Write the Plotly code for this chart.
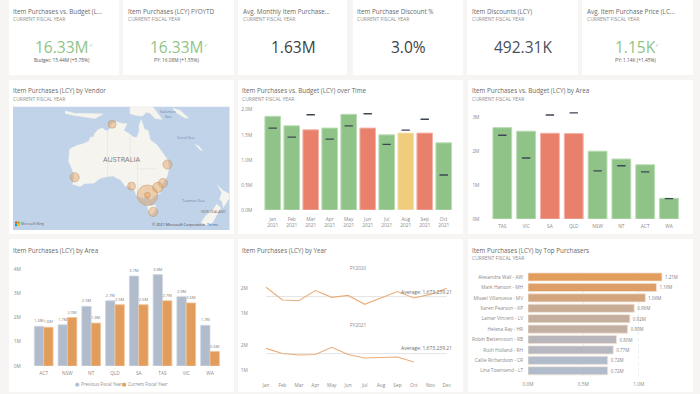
import math
import plotly.graph_objects as go

# ---------- data ----------
months_2021 = ["Jan<br>2021","Feb<br>2021","Mar<br>2021","Apr<br>2021","May<br>2021","Jun<br>2021","Jul<br>2021","Aug<br>2021","Sep<br>2021","Oct<br>2021"]
time_actual = [1.87,1.68,1.60,1.635,1.91,1.635,1.50,1.535,1.535,1.34]
time_budget = [1.635,1.455,1.90,1.415,1.68,1.92,1.31,1.595,1.81,0.70]
time_status = ["g","g","r","g","g","r","g","y","r","g"]

area_sorted = ["TAS","VIC","SA","QLD","NSW","NT","ACT","WA"]
area_actual = [2.695,2.59,2.53,2.52,2.0,1.77,1.60,0.61]
area_budget = [2.47,1.80,3.07,3.13,1.42,1.57,1.39,0.60]
area_status = ["g","g","r","r","g","g","g","g"]

areas = ["ACT","NSW","NT","QLD","SA","TAS","VIC","WA"]
prev_fy = [1.64,1.70,2.46,2.69,3.71,3.77,2.86,1.68]
curr_fy = [1.60,2.00,1.77,2.53,2.53,2.69,2.60,0.60]

months = ["Jan","Feb","Mar","Apr","May","Jun","Jul","Aug","Sep","Oct","Nov","Dec"]
fy2020 = [2.04,1.54,1.51,1.91,1.645,1.72,1.37,1.62,1.87,1.62,1.76,2.0]
fy2021 = [1.88,1.68,1.62,1.64,1.92,1.64,1.50,1.53,1.54,1.34]
average_value = 1.67323921

purchasers = ["Alexandra Wall - AW","Mark Hanson - MH","Misael Villanueva - MV","Karen Pearson - KP","Lamar Vincent - LV","Helena Ray - HR","Robin Bettencourt - RB","Ruth Holland - RH","Callie Richardson - CR","Lina Townsend - LT"]
purchaser_values = [1.21,1.16,1.06,0.96,0.92,0.90,0.80,0.77,0.72,0.72]

vendor_lon = [144.96,144.96,130.84,115.86,153.0,138.6,151.2,149.1,147.3]
vendor_lat = [-37.8,-37.8,-12.46,-31.95,-27.5,-34.9,-33.87,-35.3,-42.9]
vendor_val = [5.0,0.4,0.75,1.0,1.0,0.75,1.0,1.25,1.0]

australia_lon = [113.7,114.1,116.7,119,121.5,122.2,123.6,123.7,125.2,126.9,128.2,129.6,130.6,132.5,135.2,136.8,135.5,137.5,139.3,140.8,141.7,141.6,142.5,143.8,145.3,146.1,148.8,150.8,153.1,153.6,152.9,151.2,150,148,146.4,144.7,143.5,140.7,139.7,138.4,138.1,137.9,137.6,136.1,134.2,131.2,128.9,126,123.5,119.9,118,115.1,115.7,114.9,113.4,113.7,113.7]
australia_lat = [-22.5,-21.8,-20.6,-20,-19,-17.5,-17.3,-16.2,-14.6,-13.9,-14.9,-14.9,-12.4,-11.5,-12.2,-12.2,-14.9,-16,-17.4,-17.5,-15,-12.9,-10.7,-14.4,-15,-18.5,-20.4,-23.2,-25.9,-28.6,-31.5,-33.9,-37.2,-37.9,-39.1,-38.2,-38.8,-38,-36.2,-35.4,-33.9,-33,-35.1,-34.9,-32.8,-31.5,-31.7,-32.3,-33.9,-34,-35,-34.3,-31.6,-29.3,-26.2,-24.5,-22.5]
tasmania_lon = [144.7,146.5,148.3,148.3,147,146,145.2]
tasmania_lat = [-40.7,-41.1,-40.9,-42.2,-43.6,-43.5,-42.2]
nz_south_lon = [172.7,174.3,172.8,171,168.5,166.5,168.3,171]
nz_south_lat = [-40.5,-41.7,-43.6,-45.9,-46.6,-45.9,-44,-42.4]
nz_north_lon = [172.7,175.5,178.5,177,175.3,174.8,173.8,174.7]
nz_north_lat = [-34.4,-36.5,-37.7,-39.5,-41.6,-39.5,-39.3,-37]
guinea_lon = [131,134,138,138,140.9,143,144.5,146,148,150.8,147.5,145,150,150,131]
guinea_lat = [-2,-3.3,-1.7,-8.3,-9.1,-9.2,-7.7,-8,-10.2,-10.5,-6,-4,-4,-0.5,-0.5]
sunda_lon = [112,116,119,125,127.2,124,119.5,116,112]
sunda_lat = [-7.2,-8.2,-8.2,-8.2,-8.4,-10.2,-9.6,-9,-8.2]
solomon_lon = [155,158,161.5,160,156]
solomon_lat = [-6,-7,-10,-10,-7.5]
caledonia_lon = [164,165.5,167,166]
caledonia_lat = [-20.2,-20.8,-22.5,-22.2]
border_lon = [129,129,None,129,141,None,138,138,None,141,141,None,141,148.5,None,141,141,None,141,150]
border_lat = [-14.9,-31.7,None,-26,-26,None,-17,-26,None,-26,-29,None,-29,-29,None,-29,-38,None,-34,-37.3]

kpi_titles = ["Item Purchases vs. Budget (L...","Item Purchases (LCY) FYOYTD","Avg. Monthly Item Purchase...","Item Purchase Discount %","Item Discounts (LCY)","Avg. Item Purchase Price (LC..."]
kpi_values = ["16.33M","16.33M","1.63M","3.0%","492.31K","1.15K"]
kpi_notes = ["Budget: 15.44M (+5.78%)","PY: 16.08M (+1.55%)","","","","PY: 1.14K (+1.45%)"]

# ---------- style ----------
W, H = 700, 394
FONT = "Open Sans, Noto Sans, sans-serif"
GREEN, RED, YELLOW = "#90c388", "#e8806c", "#f0cd7c"
GREEN_E, RED_E, YELLOW_E = "#b9dcb4", "#f3b3a6", "#f6e0ad"
BLUE_GREY, ORANGE = "#b0bbcc", "#e29c5c"
SUB = "#8f8f8f"; TITLE = "#6a6a6a"; TICK = "#8b8b8b"
COL = {"g": GREEN, "r": RED, "y": YELLOW}
EDGE = {"g": GREEN_E, "r": RED_E, "y": YELLOW_E}

def X(p): return p / W
def Y(p): return 1 - p / H

shapes, annos = [], []
def card(x0, y0, x1, y1, fill="#ffffff"):
    shapes.append(dict(type="rect", xref="paper", yref="paper", x0=X(x0), x1=X(x1), y0=Y(y1), y1=Y(y0),
                       fillcolor=fill, line=dict(width=0), layer="below"))
def text(x, y, t, size, color=TITLE, anchor="left", family=FONT, **kw):
    annos.append(dict(xref="paper", yref="paper", x=X(x), y=Y(y), text=t, showarrow=False, xanchor=anchor,
                      yanchor="middle", font=dict(size=size, color=color, family=family),
                      borderpad=0, borderwidth=0, **kw))
def heading(x, y, t, sub=True):
    text(x, y, t, 6.3, TITLE)
    if sub:
        text(x, y + 7.8, "CURRENT FISCAL YEAR", 5, SUB)

layout_axes = {}
def axes(n, x0, x1, ytop, ybot, xa=None, ya=None):
    sfx = "" if n == 1 else str(n)
    xd = dict(domain=[X(x0), X(x1)], anchor="y" + sfx, showgrid=False, zeroline=False, showline=False, automargin=False,
              tickfont=dict(size=4.8, color=TICK, family=FONT), fixedrange=True)
    yd = dict(domain=[Y(ybot), Y(ytop)], anchor="x" + sfx, showgrid=False, zeroline=False, showline=False, automargin=False,
              tickfont=dict(size=4.8, color=TICK, family=FONT), fixedrange=True)
    xd.update(xa or {}); yd.update(ya or {})
    layout_axes["xaxis" + sfx] = xd
    layout_axes["yaxis" + sfx] = yd
    return ("x" + sfx, "y" + sfx)

def merc(lat):
    return None if lat is None else math.degrees(math.log(math.tan(math.pi / 4 + math.radians(lat) / 2)))

fig = go.Figure()

# ---------- cards ----------
kpi_x = [(9,119),(123,234),(238,347),(353,463),(467,578),(582,693)]
kpi_tx = [13,128,243,357,472,587]
kpi_cx = [61.7,176.7,293,408,522.7,635.5]
kpi_col = [GREEN,GREEN,"#404040","#404040","#4a4f5c",GREEN]
for (a, b), tx, cx, t, v, note, c in zip(kpi_x, kpi_tx, kpi_cx, kpi_titles, kpi_values, kpi_notes, kpi_col):
    card(a, 0, b, 75)
    heading(tx, 11, t)
    text(cx, 46.5, v, 15.5, c, "center")
    if note:
        text(cx, 60, note, 4.8, "#5a5a5a", "center")
text(91, 45, "✓", 5, GREEN, "center", "DejaVu Sans")
text(206, 45, "✓", 5, GREEN, "center", "DejaVu Sans")
text(657, 45, "✓", 5, GREEN, "center", "DejaVu Sans")
for a, b in [(9,234),(238,463),(468,693)]:
    card(a, 80, b, 234)
    card(a, 239, b, 392)

# ---------- map ----------
heading(13, 91, "Item Purchases (LCY) by Vendor")
mx0, mx1, my0, my1 = 13, 229.5, 106.7, 230
card(mx0, my0, mx1, my1, "#c1d3e8")
xa, ya = axes(1, mx0, mx1, my0, my1,
              dict(range=[91.2, 177.8], visible=False),
              dict(range=[-54.8, -5.52], visible=False))
land_parts = [(australia_lon, australia_lat), (tasmania_lon, tasmania_lat), (nz_south_lon, nz_south_lat),
              (nz_north_lon, nz_north_lat), (guinea_lon, guinea_lat), (sunda_lon, sunda_lat),
              (solomon_lon, solomon_lat), (caledonia_lon, caledonia_lat)]
for lons, lats in land_parts:
    fig.add_trace(go.Scatter(x=lons, y=[merc(v) for v in lats], mode="lines", fill="toself",
                             fillcolor="#f6f4ef", line=dict(width=0.5, color="#f6f4ef"),
                             xaxis=xa, yaxis=ya, hoverinfo="skip"))
fig.add_trace(go.Scatter(x=border_lon, y=[merc(v) for v in border_lat], mode="lines",
                         line=dict(width=0.6, color="#e4e2dc"), xaxis=xa, yaxis=ya))
fig.add_trace(go.Scatter(x=vendor_lon, y=[merc(v) for v in vendor_lat], mode="markers",
                         marker=dict(size=vendor_val, sizemode="area", sizeref=0.024,
                                     color="rgba(226,156,92,0.62)", line=dict(width=0.7, color="#c08a55")),
                         xaxis=xa, yaxis=ya))
text(121, 159, "AUSTRALIA", 7.2, "#7f7f7f", "center")
text(168, 112, "Solomon", 3.8, "#6b87a8", "center")
text(168, 116, "Sea", 3.8, "#6b87a8", "center")
text(186, 137, "Coral Sea", 4, "#6b87a8", "center")
text(193, 200, "Tasman Sea", 4, "#6b87a8", "center")
text(213, 211.5, "NEW ZEALAND", 3.6, "#777777", "center")
text(21, 223.5, "Microsoft Bing", 3.4, "#666666")
text(152, 224, "© 2021 Microsoft Corporation", 3.8, "#444444")
text(207, 224, "Terms", 3.8, "#3a6aa8")
for (lx, ly), c in zip([(15,221.5),(17.5,221.5),(15,224),(17.5,224)], ["#f25022","#7fba00","#00a4ef","#ffb900"]):
    shapes.append(dict(type="rect", xref="paper", yref="paper", x0=X(lx), x1=X(lx+2.2), y0=Y(ly+2.2), y1=Y(ly),
                       fillcolor=c, line=dict(width=0)))

# ---------- purchases vs budget over time ----------
heading(242.3, 91, "Item Purchases vs. Budget (LCY) over Time")
ptop = 106
xa, ya = axes(2, 263.2, 453.2, ptop, 210,
              dict(type="category", range=[-0.5, 9.5], tickvals=months_2021, ticktext=months_2021, ticks="outside", ticklen=4, tickcolor="rgba(0,0,0,0)"),
              dict(range=[0, (210 - ptop) / 50.1], tickvals=[0,0.5,1,1.5,2], ticktext=["0.0M","0.5M","1.0M","1.5M","2.0M"],
                   ticks="outside", ticklen=9, tickcolor="rgba(0,0,0,0)"))
fig.add_trace(go.Bar(x=months_2021, y=time_actual, width=0.82, xaxis=xa, yaxis=ya,
                     marker=dict(color=[COL[s] for s in time_status], line=dict(width=1, color=[EDGE[s] for s in time_status]))))
fig.add_trace(go.Scatter(x=months_2021, y=time_budget, mode="markers", xaxis=xa, yaxis=ya,
                         marker=dict(symbol="line-ew", size=6, line=dict(width=1.4, color="#3d4654"))))

# ---------- purchases vs budget by area ----------
heading(472, 91, "Item Purchases vs. Budget (LCY) by Area")
ptop = 105
xa, ya = axes(3, 490.4, 680.9, ptop, 219,
              dict(type="category", range=[-0.5, 7.5], tickvals=area_sorted, ticktext=area_sorted, ticks="outside", ticklen=2, tickcolor="rgba(0,0,0,0)"),
              dict(range=[0, (219 - ptop) / 33.9], tickvals=[0,1,2,3], ticktext=["0M","1M","2M","3M"],
                   ticks="outside", ticklen=9, tickcolor="rgba(0,0,0,0)"))
fig.add_trace(go.Bar(x=area_sorted, y=area_actual, width=0.79, xaxis=xa, yaxis=ya,
                     marker=dict(color=[COL[s] for s in area_status], line=dict(width=1, color=[EDGE[s] for s in area_status]))))
fig.add_trace(go.Scatter(x=area_sorted, y=area_budget, mode="markers", xaxis=xa, yaxis=ya,
                         marker=dict(symbol="line-ew", size=6, line=dict(width=1.4, color="#3d4654"))))

# ---------- purchases by area (clustered) ----------
heading(13, 250, "Item Purchases (LCY) by Area", sub=False)
ptop = 262
xa, ya = axes(4, 31.8, 221.9, ptop, 366,
              dict(type="category", range=[-0.5, 7.5], tickvals=areas, ticktext=areas, ticks="outside", ticklen=2, tickcolor="rgba(0,0,0,0)"),
              dict(range=[0, (366 - ptop) / 24.25], tickvals=[0,1,2,3,4], ticktext=["0M","1M","2M","3M","4M"],
                   ticks="outside", ticklen=9, tickcolor="rgba(0,0,0,0)"))
for vals, col, edge, off in [(prev_fy, BLUE_GREY, "#d2d8e2", -0.395), (curr_fy, ORANGE, "#efc59d", 0)]:
    fig.add_trace(go.Bar(x=areas, y=vals, width=0.395, offset=off, xaxis=xa, yaxis=ya,
                         marker=dict(color=col, line=dict(width=0.8, color=edge)),
                         text=[f"{v:.1f}M" for v in vals], textposition="outside", cliponaxis=False,
                         textfont=dict(size=4.3, color="#808080", family=FONT)))
text(77, 383.5, "●", 5, BLUE_GREY, "center", "DejaVu Sans")
text(80.5, 383.5, "Previous Fiscal Year", 4.5, TICK)
text(124.5, 383.5, "●", 5, ORANGE, "center", "DejaVu Sans")
text(127.5, 383.5, "Current Fiscal Year", 4.5, TICK)

# ---------- purchases by year (small multiples) ----------
heading(242.3, 250, "Item Purchases (LCY) by Year", sub=False)
lo, hi = 0.672, 2.446
xa, ya = axes(5, 257.8, 455, 277, 322,
              dict(type="category", categoryorder="array", categoryarray=months, range=[-0.5, 11.5], showticklabels=False),
              dict(range=[lo, hi], tickvals=[1,2], ticktext=["1M","2M"], ticks="outside", ticklen=8, tickcolor="rgba(0,0,0,0)"))
fig.add_trace(go.Scatter(x=months, y=[average_value]*12, mode="lines", line=dict(width=1, color="#e4e4e4"), xaxis=xa, yaxis=ya))
fig.add_trace(go.Scatter(x=months, y=fy2020, mode="lines", line=dict(width=1.1, color="#e8ae7a"), xaxis=xa, yaxis=ya))
xa, ya = axes(6, 257.8, 455, 334, 379,
              dict(type="category", categoryorder="array", categoryarray=months, range=[-0.5, 11.5], tickvals=months, ticktext=months, ticks="outside", ticklen=1, tickcolor="rgba(0,0,0,0)"),
              dict(range=[lo, hi], tickvals=[1,2], ticktext=["1M","2M"], ticks="outside", ticklen=8, tickcolor="rgba(0,0,0,0)"))
fig.add_trace(go.Scatter(x=months, y=[average_value]*12, mode="lines", line=dict(width=1, color="#e4e4e4"), xaxis=xa, yaxis=ya))
fig.add_trace(go.Scatter(x=months[:len(fy2021)], y=fy2021, mode="lines", line=dict(width=1.1, color="#e8ae7a"), xaxis=xa, yaxis=ya))
text(358, 268, "FY2020", 4.8, TICK, "center")
text(358, 325, "FY2021", 4.8, TICK, "center")
text(452, 291.7, "Average: 1,673,239.21", 5, "#6e6e6e", "right")
text(452, 348.3, "Average: 1,673,239.21", 5, "#6e6e6e", "right")

# ---------- top purchasers ----------
heading(472, 250, "Item Purchases (LCY) by Top Purchasers")
xa, ya = axes(7, 528, 680, 271.8, 376,
              dict(range=[0, 152 / 110.7], tickvals=[0,0.5,1.0], ticktext=["0.0M","0.5M","1.0M"], showgrid=True,
                   gridcolor="#ececec", griddash="dot", gridwidth=0.7, ticks="outside", ticklen=3, tickcolor="rgba(0,0,0,0)"),
              dict(type="category", range=[9.5, -0.5], tickvals=purchasers, ticktext=purchasers, ticks="outside", ticklen=3, tickcolor="rgba(0,0,0,0)"))
fig.add_trace(go.Bar(y=purchasers, x=purchaser_values, orientation="h", width=0.78, xaxis=xa, yaxis=ya,
                     marker=dict(color=purchaser_values, colorscale=[[0, BLUE_GREY],[1, ORANGE]], cmin=0.72, cmax=1.21,
                                 showscale=False, line=dict(width=0.8, color="#f1e3d4")),
                     text=[f"{v:.2f}M" for v in purchaser_values], textposition="outside", cliponaxis=False,
                     textfont=dict(size=4.5, color="#808080", family=FONT)))

fig.update_layout(width=W, height=H, autosize=False, margin=dict(l=0, r=0, t=0, b=0, pad=0, autoexpand=False),
                  paper_bgcolor="#f6f5f3", plot_bgcolor="rgba(0,0,0,0)", showlegend=False,
                  font=dict(family=FONT, size=5, color=TICK),
                  shapes=shapes, annotations=annos, hovermode=False, **layout_axes)
fig.write_html("out.html", config=dict(displayModeBar=False),
               post_script="document.body.style.margin='0';document.body.style.overflow='hidden';")
